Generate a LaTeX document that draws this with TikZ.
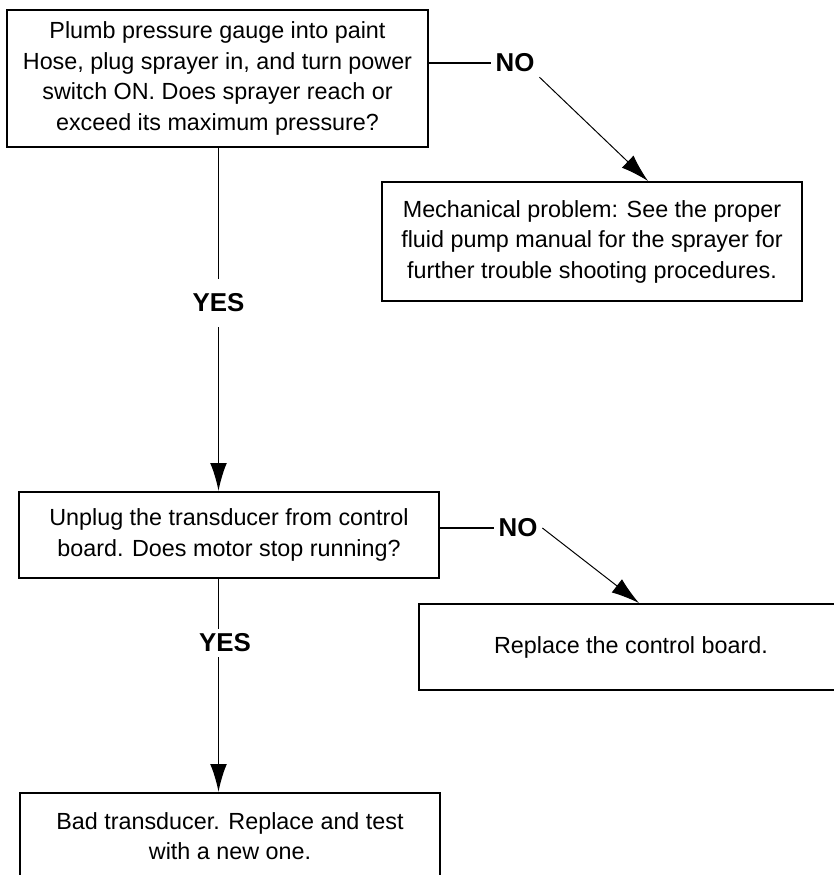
\documentclass[tikz,border=0pt]{standalone}
\usepackage{fontspec}
\setmainfont{Liberation Sans}
\usetikzlibrary{arrows.meta,calc,positioning}

\begin{document}
\begin{tikzpicture}[>={Latex[length=0.7cm,width=0.42cm]}, line width=1.4pt,
  stepbox/.style={draw, line width=1.4pt, minimum width=10.5cm, align=center, inner sep=0pt,
    font=\fontsize{16.6}{21.7}\selectfont},
  answer/.style={font=\bfseries\fontsize{18.4}{20}\selectfont, inner sep=0.1cm}]
\path[use as bounding box, fill=white] (0,0) rectangle (20.85,-21.875);
\clip (0,0) rectangle (20.85,-21.875);
\node[stepbox, minimum width=10.525cm, minimum height=3.425cm] (gauge) at (5.4375,-1.9625)
  {Plumb pressure gauge into paint\\Hose, plug sprayer in, and turn power\\switch ON. Does sprayer reach or\\exceed its maximum pressure?};
\node[stepbox, minimum height=2.975cm] (mech) at (14.8,-6.0375)
  {Mechanical problem: See the proper\\fluid pump manual for the sprayer for\\further trouble shooting procedures.};
\node[stepbox, minimum height=2.15cm] (unplug) at (5.725,-13.375)
  {Unplug the transducer from control\\board. Does motor stop running?};
\node[stepbox, minimum width=10.6cm, minimum height=2.15cm] (board) at (15.775,-16.175) {Replace the control board.};
\node[stepbox, minimum height=2.15cm] (bad) at (5.75,-20.9)
  {Bad transducer. Replace and test\\with a new one.};
\node[answer] (no1) at (12.875,-1.575) {NO};
\node[answer, inner ysep=0.35cm] (yes1) at (5.4625,-7.575) {YES};
\node[answer] (no2) at (12.95,-13.2) {NO};
\node[answer] (yes2) at (5.625,-16.075) {YES};
% first question
\draw (no1.west -| gauge.east) -- (no1.west);
\draw[->, line width=0.7pt] (no1.south east) -- ($(mech.north)+(1.4,0)$);
\draw (yes1 |- gauge.south) -- (yes1.north);
\draw[->] (yes1.south) -- (yes1 |- unplug.north);
% second question
\draw (no2.west -| unplug.east) -- (no2.west);
\draw[->, line width=0.7pt] (no2.east) -- ($(board.north)+(0.2,0)$);
\draw (yes1 |- unplug.south) -- (yes1 |- yes2.north);
\draw[->] (yes1 |- yes2.south) -- (yes1 |- bad.north);
\end{tikzpicture}
\end{document}
